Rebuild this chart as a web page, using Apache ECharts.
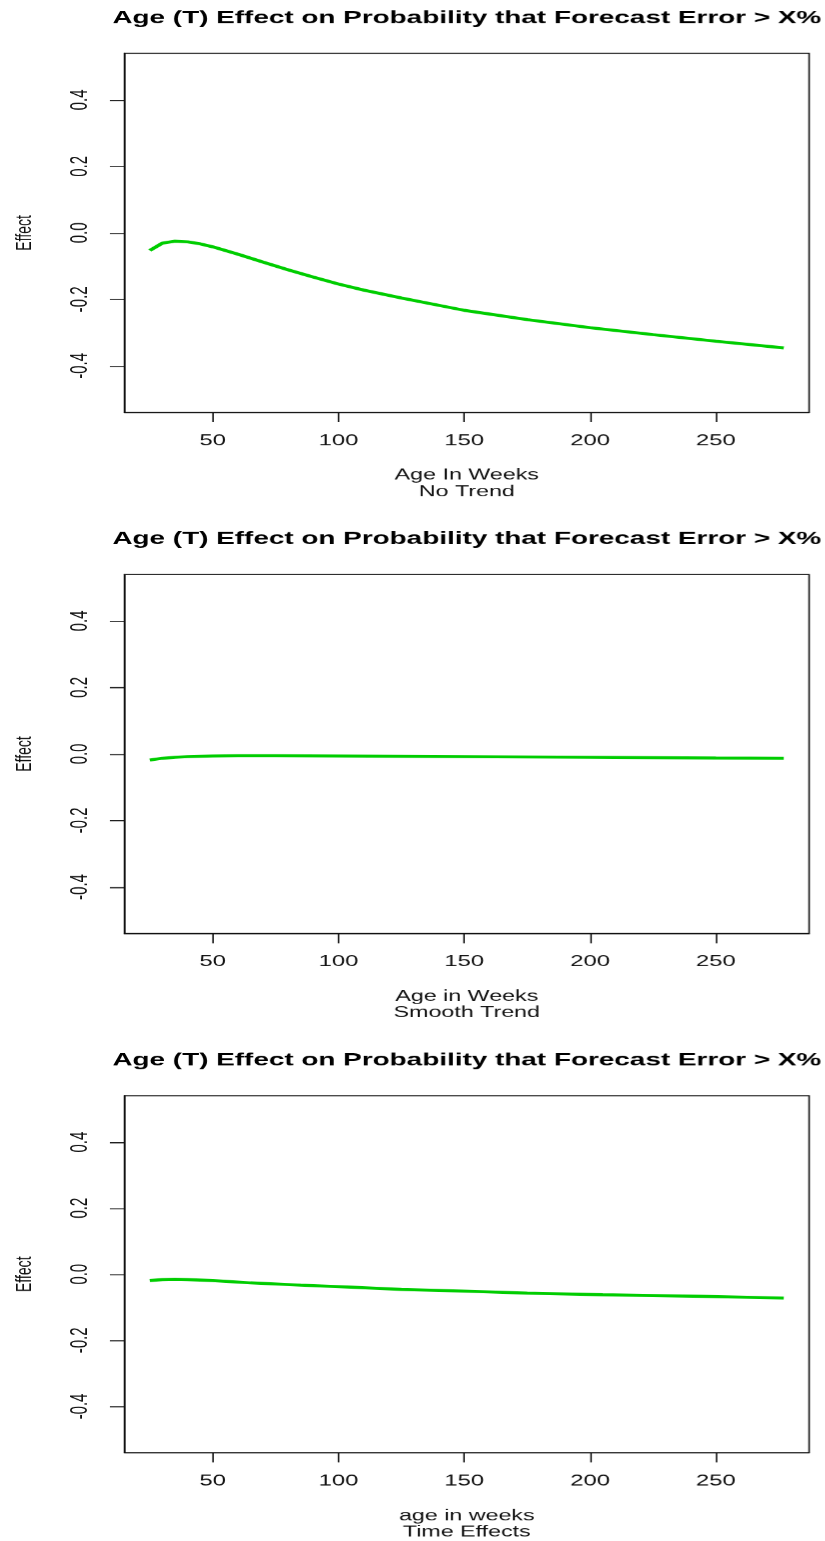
<!DOCTYPE html>
<html><head><meta charset="utf-8">
<script src="https://cdn.jsdelivr.net/npm/echarts@6/dist/echarts.min.js"></script>
<style>
html,body{margin:0;padding:0;background:#fff;overflow:hidden}
#wrap{position:absolute;left:0;top:0;width:825px;height:1541px;overflow:hidden;background:#fff}
#chart{position:absolute;left:0;top:0;height:1541px;transform-origin:0 0}
</style></head><body>
<div id="wrap"><div id="chart"></div></div>
<script>
// ---- data ----
const titleText = "Age (T) Effect on Probability that Forecast Error > X%";
const xNames = ["Age In Weeks\nNo Trend", "Age in Weeks\nSmooth Trend", "age in weeks\nTime Effects"];
const yName = "Effect";
const xTicks = [50, 100, 150, 200, 250];
const yTicks = [-0.4, -0.2, 0.0, 0.2, 0.4];

const ages1 = [25, 30, 35, 40, 45, 50, 60, 70, 80, 90, 100, 110, 125, 150, 175, 200, 225, 250, 277];
const effect1 = [-0.053, -0.031, -0.025, -0.027, -0.033, -0.042, -0.064, -0.088, -0.111, -0.133, -0.154, -0.172, -0.196, -0.233, -0.261, -0.285, -0.306, -0.326, -0.346];

const ages2 = [25, 30, 35, 40, 50, 60, 75, 100, 150, 200, 250, 277];
const effect2 = [-0.018, -0.013, -0.010, -0.008, -0.006, -0.005, -0.005, -0.006, -0.008, -0.010, -0.012, -0.013];

const ages3 = [25, 30, 35, 40, 50, 65, 85, 105, 125, 150, 175, 205, 245, 277];
const effect3 = [-0.019, -0.016, -0.015, -0.016, -0.019, -0.026, -0.033, -0.039, -0.046, -0.051, -0.057, -0.062, -0.067, -0.072];

const panels = [[ages1, effect1], [ages2, effect2], [ages3, effect3]];

// ---- layout ----
const SX = 1.55;                 // horizontal stretch of the original picture
const W = 825 / SX;
const dom = document.getElementById('chart');
dom.style.width = W + 'px';
dom.style.transform = 'scaleX(' + SX + ')';

const gridLeft = 124.5 / SX, gridWidth = (809.5 - 124.5) / SX;
const gridTops = [53.3, 574.3, 1095.5];
const gridH = 359;
const FONT = '"Liberation Sans", Arial, Helvetica, sans-serif';

const grids = [], xAxes = [], yAxes = [], series = [], graphics = [];
panels.forEach((p, k) => {
  grids.push({left: gridLeft, top: gridTops[k], width: gridWidth, height: gridH,
    show: true, borderColor: '#111', borderWidth: 1, backgroundColor: 'transparent', containLabel: false});
  xAxes.push({
    gridIndex: k, type: 'value', min: 14.92, max: 287.08, position: 'bottom',
    axisLine: {show: true, onZero: false, lineStyle: {color: '#111', width: 1}},
    splitLine: {show: false},
    axisTick: {show: true, length: 9.7, customValues: xTicks, lineStyle: {color: '#111', width: 1}},
    axisLabel: {customValues: xTicks, margin: 21, fontSize: 15.4, color: '#111', fontFamily: FONT},
    name: xNames[k], nameLocation: 'middle', nameGap: 55,
    nameTextStyle: {fontSize: 15, lineHeight: 16.3, color: '#111', fontFamily: FONT}
  });
  yAxes.push({
    gridIndex: k, type: 'value', min: -0.54, max: 0.54, position: 'left',
    axisLine: {show: true, onZero: false, lineStyle: {color: '#111', width: 1}},
    splitLine: {show: false},
    axisTick: {show: true, length: 9.4, customValues: yTicks, lineStyle: {color: '#111', width: 1}},
    axisLabel: {customValues: yTicks, rotate: 90, margin: 21, fontSize: 15, color: '#111', fontFamily: FONT,
      formatter: v => (Math.abs(v) < 1e-9 ? 0 : v).toFixed(1)},
    name: yName, nameLocation: 'middle', nameRotate: 90, nameGap: 57,
    nameTextStyle: {fontSize: 14, color: '#111', fontFamily: FONT}
  });
  series.push({
    type: 'line', xAxisIndex: k, yAxisIndex: k,
    data: p[0].map((a, i) => [a, p[1][i]]),
    showSymbol: false, symbol: 'none', smooth: false,
    lineStyle: {color: '#00CD00', width: 3},
    animation: false, silent: true
  });
  graphics.push({
    type: 'text', x: (124.5 + 809.5) / 2 / SX, y: 18 + gridTops[k] - 53.3,
    style: {text: titleText, fill: '#000', font: 'bold 18px ' + FONT,
      align: 'center', verticalAlign: 'middle', textAlign: 'center', textVerticalAlign: 'middle'}
  });
});

const chart = echarts.init(dom, null, {renderer: 'canvas', devicePixelRatio: SX, width: W, height: 1541});
chart.setOption({
  animation: false,
  backgroundColor: '#fff',
  grid: grids, xAxis: xAxes, yAxis: yAxes, series: series, graphic: graphics
});
</script>
</body></html>
